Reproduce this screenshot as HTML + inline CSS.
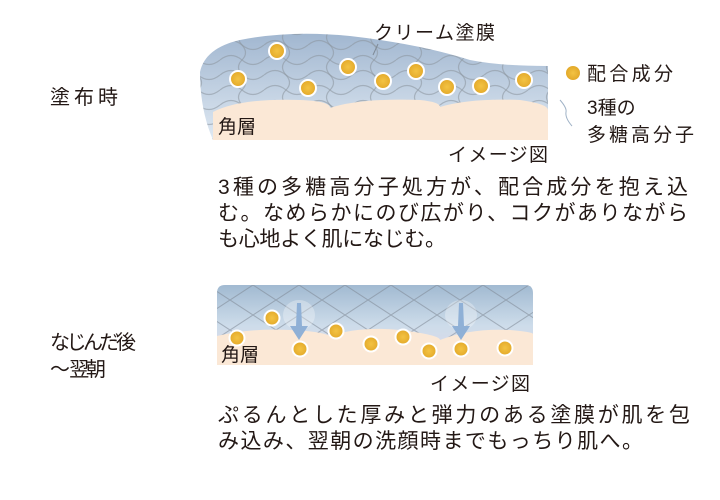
<!DOCTYPE html>
<html><head><meta charset="utf-8"><style>
html,body{margin:0;padding:0;background:#fff}
svg{display:block}
text{font-family:"Liberation Sans","Noto Sans CJK JP",sans-serif;fill:#231815}
</style></head><body>
<svg width="720" height="500" viewBox="0 0 720 500" xmlns="http://www.w3.org/2000/svg">
<defs>
<linearGradient id="g1" x1="0" y1="0" x2="0" y2="1">
<stop offset="0" stop-color="#9fb5cf"/><stop offset="1" stop-color="#e2ebf4"/></linearGradient>
<linearGradient id="g2" x1="0" y1="0" x2="0" y2="1">
<stop offset="0" stop-color="#9fb8d0"/><stop offset="0.5" stop-color="#cddcea"/><stop offset="1" stop-color="#e4d9ec"/></linearGradient>
<pattern id="wave" width="44" height="30" patternUnits="userSpaceOnUse">
<path d="M0 15 Q11 6 22 15 T44 15 M0 0 Q11 -9 22 0 T44 0 M0 30 Q11 21 22 30 T44 30" fill="none" stroke="#8a939c" stroke-width="1.2" opacity="0.55"/>
<path d="M22 0 Q15 7 22 15 T22 30" fill="none" stroke="#8a939c" stroke-width="1.2" opacity="0.55"/>
</pattern>
<pattern id="diam" width="46" height="30" patternUnits="userSpaceOnUse">
<path d="M0 0 L46 30 M46 0 L0 30" stroke="#7d8793" stroke-width="1.1" opacity="0.55"/>
</pattern>
<radialGradient id="dot"><stop offset="0" stop-color="#f3c343"/><stop offset="1" stop-color="#e3a92a"/></radialGradient>
<clipPath id="c1"><path d="M200 72 Q205 48 240 40 Q290 30 350 36 Q420 44 470 60 Q500 66 548 66 L548 140 L213 140 Q200 110 200 72Z"/></clipPath>
<clipPath id="c2"><path d="M217 365 L217 293 Q217 285 225 285 L525 285 Q533 285 533 293 L533 365Z"/></clipPath>
</defs>

<g clip-path="url(#c1)">
<rect x="195" y="30" width="360" height="115" fill="url(#g1)"/>
<rect x="195" y="30" width="360" height="115" fill="url(#wave)"/>
<path d="M213 140 L213 112 Q240 98 300 100 Q330 101 330 108 Q360 98 420 100 Q440 102 440 107 Q470 98 520 100 Q548 104 548 110 L548 140Z" fill="#fbe8d6"/>
</g>
<path d="M560 100 Q567 108 566 112 Q565 118 572 126" fill="none" stroke="#9fb2c6" stroke-width="1"/>
<path d="M378 44 L373 55" stroke="#7f8a96" stroke-width="1"/>
<g fill="url(#dot)" stroke="#fff" stroke-width="2">
<circle cx="238" cy="79" r="8"/><circle cx="277" cy="51" r="8"/><circle cx="308" cy="88" r="8"/>
<circle cx="348" cy="67" r="8"/><circle cx="383" cy="81" r="8"/><circle cx="416" cy="71" r="8"/>
<circle cx="447" cy="87" r="8"/><circle cx="481" cy="86" r="8"/><circle cx="524" cy="80" r="8"/>
</g>
<text x="218" y="133" font-size="19">角層</text>
<text x="374" y="39" font-size="19" textLength="121">クリーム塗膜</text>
<circle cx="573" cy="73" r="7" fill="url(#dot)"/>
<text x="587" y="80" font-size="19" textLength="86">配合成分</text>
<text x="587" y="114" font-size="19">3種の</text>
<text x="587" y="141" font-size="19" textLength="107">多糖高分子</text>
<text x="448" y="161" font-size="19" textLength="100">イメージ図</text>

<text x="50" y="104" font-size="20" textLength="68">塗布時</text>
<g font-size="21">
<text x="218" y="194" textLength="470">3種の多糖高分子処方が、配合成分を抱え込</text>
<text x="218" y="220" textLength="470">む。なめらかにのび広がり、コクがありながら</text>
<text x="218" y="246" textLength="228">も心地よく肌になじむ。</text>
</g>

<g clip-path="url(#c2)">
<rect x="215" y="283" width="320" height="85" fill="url(#g2)"/>
<rect x="215" y="283" width="320" height="85" fill="url(#diam)"/>
<path d="M217 365 L217 336 Q250 328 290 330 Q320 331 330 336 Q360 326 400 330 Q440 335 440 340 Q470 328 510 330 Q533 332 533 334 L533 365Z" fill="#fbe8d6"/>
<ellipse cx="299" cy="315" rx="16" ry="15" fill="#fff" opacity="0.3"/>
<ellipse cx="461" cy="315" rx="16" ry="15" fill="#fff" opacity="0.3"/>
</g>
<g fill="#8fb0d6">
<path d="M297 303 L301 303 L302 326 L308 326 L299 340 L290 326 L296 326Z"/>
<path d="M459 303 L463 303 L464 326 L470 326 L461 340 L452 326 L458 326Z"/>
</g>
<g fill="url(#dot)" stroke="#fff" stroke-width="2">
<circle cx="237" cy="338" r="7.5"/><circle cx="272" cy="318" r="7.5"/><circle cx="300" cy="349" r="7.5"/>
<circle cx="336" cy="331" r="7.5"/><circle cx="371" cy="344" r="7.5"/><circle cx="403" cy="337" r="7.5"/>
<circle cx="429" cy="351" r="7.5"/><circle cx="461" cy="349" r="7.5"/><circle cx="505" cy="348" r="7.5"/>
</g>
<text x="221" y="361" font-size="19">角層</text>
<text x="430" y="390" font-size="19" textLength="100">イメージ図</text>

<text x="50" y="349" font-size="20" textLength="86">なじんだ後</text>
<text x="50" y="376" font-size="20" textLength="56">〜 翌朝</text>
<g font-size="21">
<text x="218" y="422" textLength="472">ぷるんとした厚みと弾力のある塗膜が肌を包</text>
<text x="218" y="448" textLength="425">み込み、翌朝の洗顔時までもっちり肌へ。</text>
</g>
</svg>
</body></html>
